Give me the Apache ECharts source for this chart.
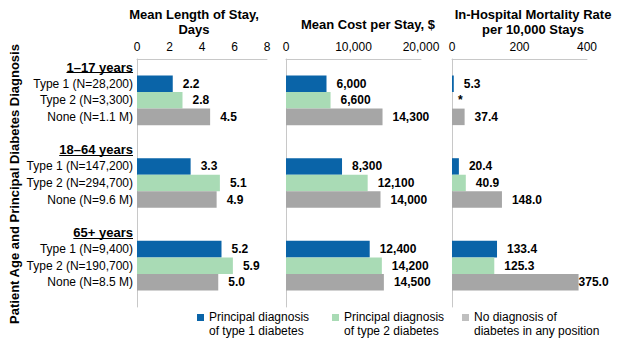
<!DOCTYPE html>
<html><head><meta charset="utf-8">
<script src="https://cdn.jsdelivr.net/npm/echarts@6/dist/echarts.min.js"></script>
<style>html,body{margin:0;padding:0;background:#fff}#c{width:624px;height:347px}</style>
</head><body><div id="c"></div>
<script>
// ---- data ----
const groups = ['1–17 years', '18–64 years', '65+ years'];
const rowLabels = [
  ['Type 1 (N=28,200)', 'Type 2 (N=3,300)', 'None (N=1.1 M)'],
  ['Type 1 (N=147,200)', 'Type 2 (N=294,700)', 'None (N=9.6 M)'],
  ['Type 1 (N=9,400)', 'Type 2 (N=190,700)', 'None (N=8.5 M)']
];
const seriesNames = ['Principal diagnosis of type 1 diabetes', 'Principal diagnosis of type 2 diabetes', 'No diagnosis of diabetes in any position'];
const legendLabels = ['Principal diagnosis\nof type 1 diabetes', 'Principal diagnosis\nof type 2 diabetes', 'No diagnosis of\ndiabetes in any position'];
const panelTitles = ['Mean Length of Stay,\nDays', 'Mean Cost per Stay, $', 'In-Hospital Mortality Rate\nper 10,000 Stays'];
const yAxisTitle = 'Patient Age and Principal Diabetes Diagnosis';

const losType1 = [2.2, 3.3, 5.2];
const losType2 = [2.8, 5.1, 5.9];
const losNone  = [4.5, 4.9, 5.0];
const costType1 = [6000, 8300, 12400];
const costType2 = [6600, 12100, 14200];
const costNone  = [14300, 14000, 14500];
const mortType1 = [5.3, 20.4, 133.4];
const mortType2 = [null, 40.9, 125.3]; // null = suppressed (*)
const mortNone  = [37.4, 148.0, 375.0];

const losTicks = [0, 2, 4, 6, 8];
const costTicks = [0, 10000, 20000];
const mortTicks = [0, 200, 400];

// ---- build ----
const FONT = '"Liberation Sans", Arial, sans-serif';
const colors = ['#0a64a8', '#a9dbb5', '#a6a6a6'];
const legendColors = ['#0a64a8', '#a9dbb5', '#bfbfbf'];

const categories = [];
groups.forEach((g, gi) => {
  if (gi > 0) categories.push('blank' + gi);
  categories.push('head' + gi);
  rowLabels[gi].forEach((r, ri) => categories.push('row' + gi + '_' + ri));
});
categories.push('blankEnd');

const panels = [
  { vals: [losType1, losType2, losNone], ticks: losTicks, fmt: v => v.toFixed(1), grid: { left: 137, width: 130 } },
  { vals: [costType1, costType2, costNone], ticks: costTicks, fmt: v => v.toLocaleString('en-US'), grid: { left: 286, width: 135 } },
  { vals: [mortType1, mortType2, mortNone], ticks: mortTicks, fmt: v => v.toFixed(1), grid: { left: 452, width: 135 } }
];

const grid = [], xAxis = [], yAxis = [], series = [];
panels.forEach((p, pi) => {
  const max = p.ticks[p.ticks.length - 1];
  grid.push({ left: p.grid.left, width: p.grid.width, top: 59, height: 248 });
  xAxis.push({
    type: 'value', gridIndex: pi, position: 'top', min: 0, max: max, interval: p.ticks[1],
    axisLine: { show: true, lineStyle: { color: '#c8c8c8', width: 1 } },
    axisTick: { show: false }, splitLine: { show: false },
    axisLabel: { margin: 6, fontSize: 12, color: '#000', fontFamily: FONT,
      formatter: v => v.toLocaleString('en-US') }
  });
  yAxis.push({
    type: 'category', gridIndex: pi, data: categories, inverse: true,
    axisLine: { show: true, lineStyle: { color: '#c8c8c8', width: 1 } },
    axisTick: { show: false },
    axisLabel: pi === 0 ? {
      show: true, interval: 0, margin: 4, fontSize: 12, color: '#000', fontFamily: FONT,
      formatter: c => {
        let m = c.match(/^head(\d)$/);
        if (m) return '{h|' + groups[+m[1]] + '}';
        m = c.match(/^row(\d)_(\d)$/);
        if (m) return rowLabels[+m[1]][+m[2]];
        return '';
      },
      rich: { h: { fontWeight: 'bold', fontSize: 13, color: '#000', fontFamily: FONT } }
    } : { show: false }
  });
  for (let t = 0; t < 3; t++) {
    const data = categories.map(c => {
      const m = c.match(/^row(\d)_(\d)$/);
      if (!m || +m[2] !== t) return null;
      const v = p.vals[t][+m[1]];
      if (v === null) return { value: 0, label: { formatter: '*', distance: 6 } };
      if (v > 0.9 * max) return { value: v, label: { distance: 0 } };
      return v;
    });
    series.push({
      type: 'bar', name: seriesNames[t], xAxisIndex: pi, yAxisIndex: pi,
      barWidth: '100%', barGap: '-100%', data: data,
      itemStyle: { color: colors[t] },
      label: { show: true, position: 'right', distance: 10, color: '#000', fontWeight: 'bold',
        fontSize: 12, fontFamily: FONT, formatter: prm => p.fmt(prm.value) },
      silent: true
    });
  }
});

const legendLefts = [197, 332, 462];
const legend = seriesNames.map((n, i) => ({
  data: [{ name: n, itemStyle: { color: legendColors[i] } }],
  left: legendLefts[i], top: 310, padding: 0, orient: 'horizontal',
  itemWidth: 7, itemHeight: 28, itemGap: 0,
  icon: 'path://M0,0L0,0M0,4L7,4L7,11L0,11ZM0,28L0,28',
  formatter: () => legendLabels[i],
  textStyle: { fontSize: 12, lineHeight: 14, color: '#000', fontFamily: FONT },
  selectedMode: false
}));

const titleX = [194, 368, 533];
const titleY = [7, 17, 7];
const graphic = panelTitles.map((t, i) => ({
  type: 'text', x: titleX[i], y: titleY[i],
  style: { text: t, font: 'bold 13px ' + FONT, fill: '#000', align: 'center', verticalAlign: 'top', lineHeight: 15 }
}));
graphic.push({
  type: 'text', x: 14, y: 184, rotation: Math.PI / 2,
  style: { text: yAxisTitle, font: 'bold 13px ' + FONT, fill: '#000', align: 'center', verticalAlign: 'middle' }
});

const chart = echarts.init(document.getElementById('c'), null, { renderer: 'svg' });
chart.setOption({
  animation: false,
  textStyle: { fontFamily: FONT },
  grid, xAxis, yAxis, series, legend, graphic
});

// underline the age-group headers
const ctx = document.createElement('canvas').getContext('2d');
ctx.font = 'bold 13px ' + FONT;
const lines = groups.map((g, i) => {
  const y = Math.round(chart.convertToPixel({ yAxisIndex: 0 }, 'head' + i) + 5) + 0.5;
  const w = ctx.measureText(g).width;
  return { type: 'line', shape: { x1: 133 - w, y1: y, x2: 133, y2: y }, style: { stroke: '#000', lineWidth: 1 } };
});
chart.setOption({ graphic: graphic.concat(lines) });
</script>
</body></html>
